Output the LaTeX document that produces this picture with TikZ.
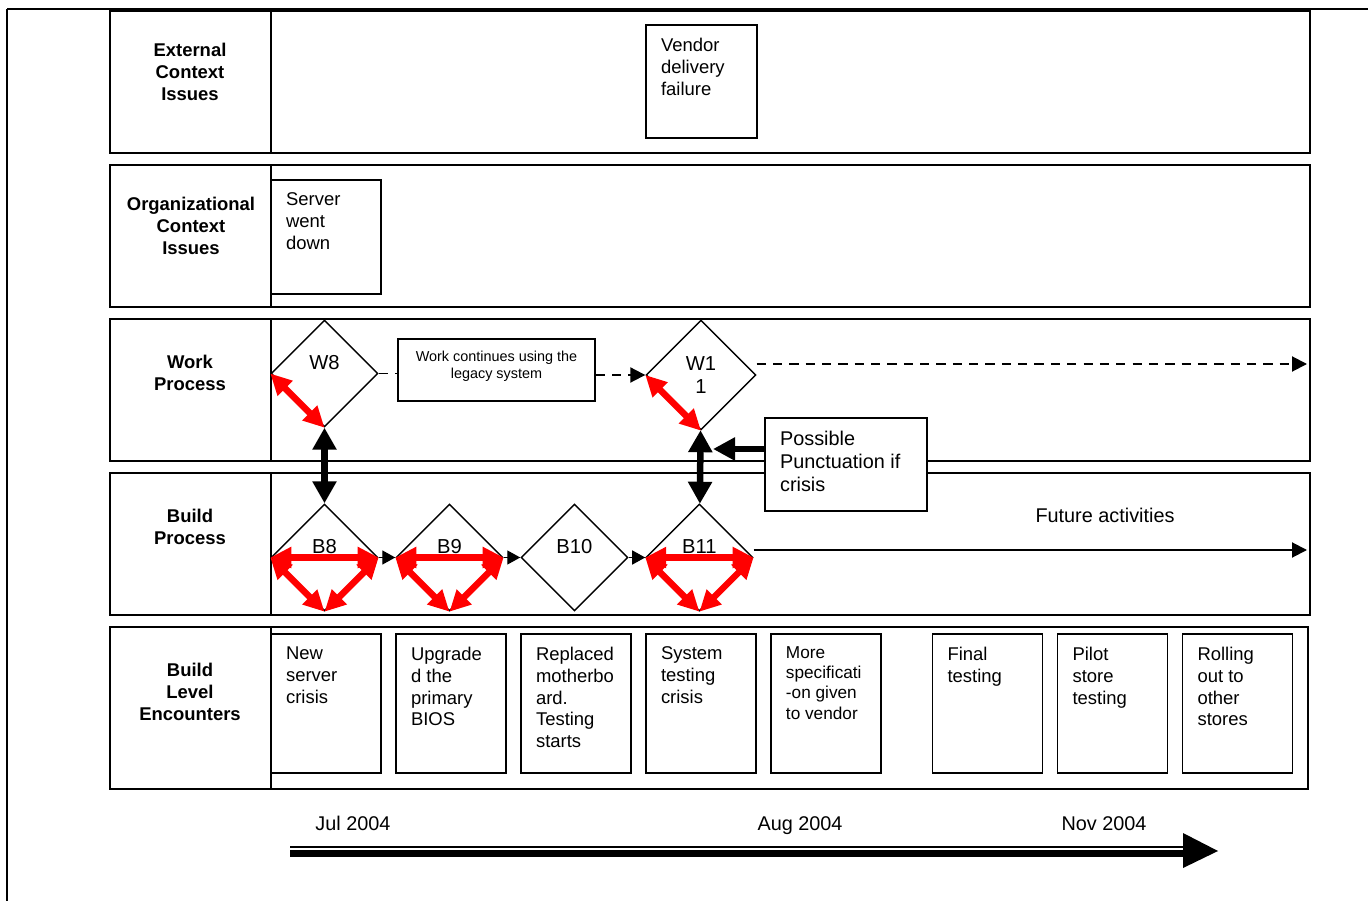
\documentclass[tikz,border=0pt]{standalone}
\usepackage{fontspec}
\setmainfont{Liberation Sans}
\usetikzlibrary{shapes.geometric, arrows.meta, positioning}

\begin{document}
\begin{tikzpicture}[x=0.02cm, y=-0.02cm, node distance=2.5cm, on grid,
	font=\fontsize{10.5}{12.4}\selectfont,
	lane/.style={draw, line width=0.9pt},
	lanename/.style={font=\fontsize{10.5}{12.5}\selectfont\bfseries, align=center},
	note/.style={draw, line width=0.9pt, fill=white, inner sep=0pt},
	notetext/.style={anchor=north west, align=left, inner xsep=0.31cm, inner ysep=0.27cm},
	enc/.style={note, minimum width=2.2cm, minimum height=2.78cm},
	dia/.style={draw, diamond, line width=0.8pt, minimum size=2.14cm, inner sep=0pt},
	dialabel/.style={anchor=center, font=\fontsize{11.5}{13}\selectfont, yshift=0.21cm},
	link/.style={line width=1.1pt, -{Triangle[length=0.3cm,width=0.3cm]}},
	hop/.style={line width=0.8pt, -{Triangle[length=0.26cm,width=0.28cm]}},
	bigarrow/.style={line width=0.13cm, {Triangle[length=0.44cm,width=0.46cm]}-{Triangle[length=0.44cm,width=0.46cm]}},
	redarrow/.style={red, line width=0.13cm, {Triangle[length=0.42cm,width=0.4cm]}-{Triangle[length=0.42cm,width=0.4cm]}},
	big/.style={font=\fontsize{11.3}{13}\selectfont}]
	\useasboundingbox (0,0) rectangle (1368,901);
	\draw[line width=1.5pt] (7,9) -- (1368,9);
	\draw[line width=1.1pt] (7,9) -- (7,901);
	\foreach \t/\b in {11/153, 165/307, 319/461, 473/615}
		\draw[lane] (110,\t) rectangle (1310,\b) (271,\t) -- (271,\b);
	\draw[lane] (110,627) rectangle (1308,789) (271,627) -- (271,789);
	\node[lanename] (ext) at (190,72) {External\\Context\\Issues};
	\node[lanename] (org) at (191,226) {Organizational\\Context\\Issues};
	\node[lanename] (work) at (190,373) {Work\\Process};
	\node[lanename] (build) at (190,527) {Build\\Process};
	\node[lanename] (level) at (190,692) {Build\\Level\\Encounters};
	\node[note, minimum width=2.22cm, minimum height=2.26cm, label={[notetext]north west:Vendor\\delivery\\failure}] (vendor) at (701.5,81.5) {};
	\node[note, minimum width=2.2cm, minimum height=2.28cm, label={[notetext]north west:Server\\went\\down}] (server) at (326,237) {};
	\node[note, minimum width=3.94cm, minimum height=1.24cm, label={[anchor=north, align=center, inner ysep=0.25cm, font=\fontsize{8.2}{9.6}\selectfont]north:Work continues using the\\legacy system}] (legacy) at (496.5,370) {};
	\node[dia, label={[dialabel]center:W8}] (W8) at (324.5,373.5) {};
	\node[dia, minimum size=2.2cm, align=center, font=\fontsize{11.5}{13}\selectfont] (W11) at (701,375) {W1\\1};
	\node[dia, label={[dialabel]center:B8}] (B8) at (324.5,557.5) {};
	\node[dia, label={[dialabel]center:B9}] (B9) [right of=B8] {};
	\node[dia, label={[dialabel]center:B10}] (B10) [right of=B9] {};
	\node[dia, label={[dialabel]center:B11}] (B11) [right of=B10] {};
	\node[note, minimum width=3.24cm, minimum height=1.86cm, label={[notetext, big, inner ysep=0.28cm]north west:Possible\\Punctuation if\\crisis}] (punct) at (846,464.5) {};
	\node[big] (future) at (1105,515) {Future activities};
	\node[enc, label={[notetext]north west:New\\server\\crisis}] (e1) at (326,703.5) {};
	\node[enc, label={[notetext]north west:Upgrade\\d the\\primary\\BIOS}] (e2) [right of=e1] {};
	\node[enc, label={[notetext]north west:Replaced\\motherbo\\ard.\\Testing\\starts}] (e3) [right of=e2] {};
	\node[enc, label={[notetext]north west:System\\testing\\crisis}] (e4) [right of=e3] {};
	\node[enc, label={[notetext, font=\fontsize{9.8}{11.4}\selectfont]north west:More\\specificati\\-on given\\to vendor}] (e5) [right of=e4] {};
	\node[enc, label={[notetext]north west:Final\\testing}] (e6) at (987.5,703.5) {};
	\node[enc, label={[notetext]north west:Pilot\\store\\testing}] (e7) [right of=e6] {};
	\node[enc, label={[notetext]north west:Rolling\\out to\\other\\stores}] (e8) [right of=e7] {};
	\coordinate (wend) at (1307,364);
	\coordinate (bend) at (1307,550);
	\coordinate (pin) at (713,449);
	\path[dash pattern=on 5.3pt off 4pt, line width=1.1pt]
		(W8.east) edge (W8.east -| legacy.west)
		(legacy.east |- W11.west) edge[link] (W11.west)
		(W11.east |- wend) edge[link] (wend);
	\path[hop] (B8) edge (B9) (B9) edge (B10) (B10) edge (B11);
	\draw[link] (B11.east |- bend) -- (bend);
	\path[bigarrow] (W8) edge (B8) (W11) edge (B11);
	\draw[line width=0.13cm, -{Triangle[length=0.44cm,width=0.44cm]}] (punct.west |- pin) -- (pin);
	\path[redarrow]
		(W8.west) edge (W8.south)
		(W11.west) edge (W11.south)
		(B8.west) edge (B8.east) (B8.west) edge (B8.south) (B8.east) edge (B8.south)
		(B9.west) edge (B9.east) (B9.west) edge (B9.south) (B9.east) edge (B9.south)
		(B11.west) edge (B11.east) (B11.west) edge (B11.south) (B11.east) edge (B11.south);
	\node[big, anchor=base] (jul) at (353,830) {Jul 2004};
	\node[big, anchor=base] (aug) at (800,830) {Aug 2004};
	\node[big, anchor=base] (nov) at (1104,830) {Nov 2004};
	\draw[line width=3.6pt] (290,853.5) -- (1184,853.5);
	\draw[line width=1.5pt] (290,847) -- (1184,847);
	\fill (1183,833) -- (1218,851) -- (1183,868) -- cycle;
\end{tikzpicture}
\end{document}
